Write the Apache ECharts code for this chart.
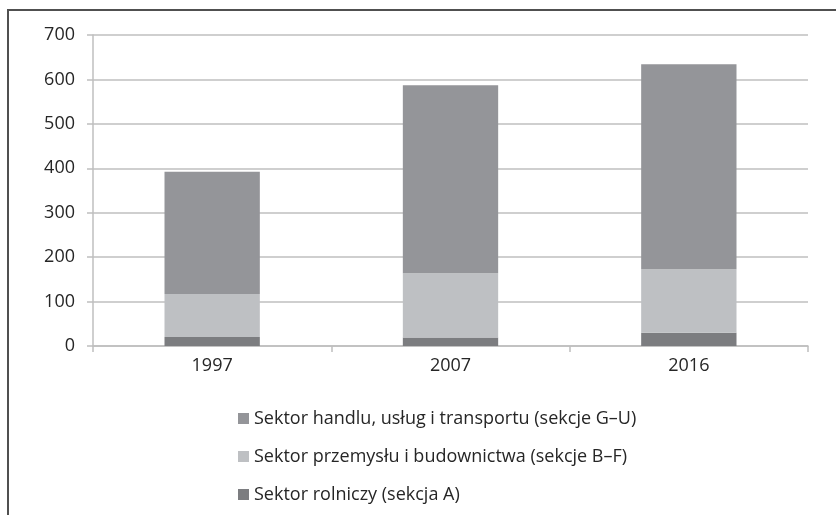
<!DOCTYPE html>
<html>
<head>
<meta charset="utf-8">
<script src="https://cdn.jsdelivr.net/npm/echarts@6/dist/echarts.min.js"></script>
<style>
	html, body { margin: 0; padding: 0; background: #fff; }
	#chart { width: 836px; height: 515px; }
</style>
</head>
<body>
<div id="chart"></div>
<script>
var years = ['1997', '2007', '2016'];
var rolnictwo = [20, 19, 30];		//sekcja A
var przemysl = [97, 145, 143];		//sekcje B–F
var uslugi = [275, 423, 461];		//sekcje G–U
var yTicks = [0, 100, 200, 300, 400, 500, 600, 700];
var names = [
	'Sektor handlu, usług i transportu (sekcje G–U)',
	'Sektor przemysłu i budownictwa (sekcje B–F)',
	'Sektor rolniczy (sekcja A)'
];
var colors = { uslugi: '#949599', przemysl: '#bec0c3', rolnictwo: '#7c7d80' };
var fontFamily = '"Open Sans", Lato, sans-serif';

var myChart = echarts.init(document.getElementById('chart'));

function bar(name, data, color) {
	return {
		name: name,
		type: 'bar',
		stack: 'all',
		barWidth: '40%',
		data: data,
		itemStyle: { color: color },
		emphasis: { disabled: true }
	};
}

var option = {
	animation: false,
	backgroundColor: '#fff',
	textStyle: { fontFamily: fontFamily },
	// ramka wykresu
	graphic: [{
		type: 'rect',
		shape: { x: 8, y: 10, width: 900, height: 600 },
		style: { fill: 'none', stroke: '#505050', lineWidth: 2 },
		silent: true
	}],
	grid: { left: 93, right: 28, top: 35, bottom: 169 },
	legend: {
		orient: 'vertical',
		left: 233,
		top: 402,
		data: names,
		icon: 'rect',
		itemWidth: 11,
		itemHeight: 11,
		itemGap: 15,
		textStyle: { fontSize: 18, color: '#262626', lineHeight: 23, fontFamily: fontFamily }
	},
	xAxis: {
		type: 'category',
		data: years,
		axisLine: { lineStyle: { color: '#bfbfbf', width: 1.5 } },
		axisTick: { show: true, length: 6, lineStyle: { color: '#bfbfbf', width: 1.5 } },
		axisLabel: { fontSize: 18, color: '#262626', margin: 11, fontFamily: fontFamily }
	},
	yAxis: {
		type: 'value',
		min: yTicks[0],
		max: yTicks[yTicks.length - 1],
		interval: 100,
		axisLine: { show: true, lineStyle: { color: '#bfbfbf', width: 1.5 } },
		axisTick: { show: true, length: 6, lineStyle: { color: '#bfbfbf', width: 1.5 } },
		splitLine: { lineStyle: { color: '#bfbfbf', width: 1.5 } },
		axisLabel: { fontSize: 18, color: '#262626', margin: 18, fontFamily: fontFamily }
	},
	series: [
		bar(names[2], rolnictwo, colors.rolnictwo),
		bar(names[1], przemysl, colors.przemysl),
		bar(names[0], uslugi, colors.uslugi)
	]
};
myChart.setOption(option);
</script>
</body>
</html>
